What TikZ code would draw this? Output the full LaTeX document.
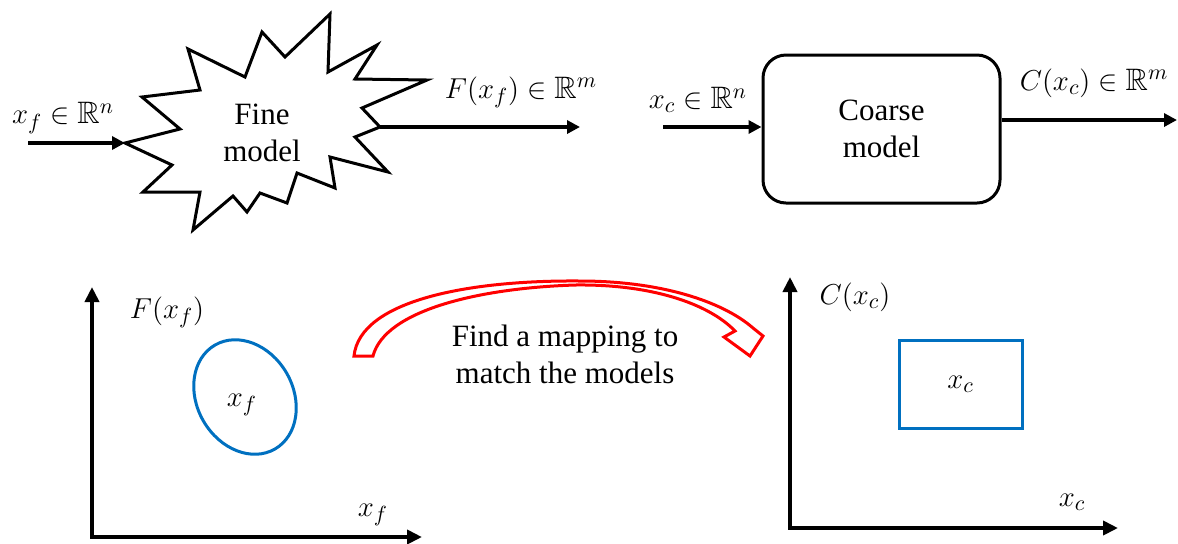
\documentclass[tikz,border=0pt]{standalone}
\usepackage{amsfonts,amssymb,amsmath}
\usepackage{fontspec}
\setmainfont{Liberation Serif}
\usepackage{tikz}
\usepackage{xcolor}
\usetikzlibrary{arrows.meta,positioning}
\definecolor{setblue}{RGB}{0,112,192}

\begin{document}
\begin{tikzpicture}[x=0.5pt,y=-0.5pt,
  every node/.style={font=\fontsize{15.5}{18.5}\selectfont},
  flow/.style={line width=2pt,-{Triangle[length=6.5pt,width=6.5pt]}},
  axes/.style={line width=2pt,{Triangle[length=7.5pt,width=7pt]}-{Triangle[length=7.5pt,width=7pt]}},
  region/.style={setblue,line width=1.5pt}]
\useasboundingbox (0,0) rectangle (1178,543);
% fine model
\draw[line width=1.5pt,line join=miter,miter limit=10](125,143)--(180,129)--(142,97)--(200,90)--(188,49)--(245,77)--(262,32)--(285,57)--(330,14)--(328,72)--(377,45)--(355,79)--(427,80)--(362,108)--(380,127)--(355,137)--(388,172)--(330,157)--(335,188)--(297,173)--(287,203)--(260,193)--(247,212)--(233,196)--(193,230)--(200,192)--(143,192)--(172,165)--cycle;
\coordinate (fineIn) at (125,143);
\coordinate (fineOut) at (380,127);
\coordinate (xfIn) at (28,143);
\coordinate (FOut) at (580,127);
\node[align=center] (fine) at (262,133) {Fine\\model};
\draw[flow](xfIn)--(fineIn);
\draw[flow](fineOut)--(FOut);
\node (xfLab) at (63,118) {$x_f\in\mathbb{R}^n$};
\node (FLab) at (521,92) {$F(x_f)\in\mathbb{R}^m$};
% coarse model
\node[draw,rounded corners=11.5pt,line width=1.5pt,minimum width=118.5pt,minimum height=74pt,align=center] (coarse) at (881.5,129) {Coarse\\model};
\coordinate (xcIn) at (663,127);
\coordinate (COut) at (1177,120);
\draw[flow](xcIn)--(xcIn -| coarse.west);
\draw[flow](coarse.east |- COut)--(COut);
\node (xcLab) at (698,100) {$x_c\in\mathbb{R}^n$};
\node (CLab) at (1094,83) {$C(x_c)\in\mathbb{R}^m$};
% fine response plot
\coordinate (o1) at (92,537);
\coordinate (y1) at (92,287);
\coordinate (x1) at (422,537);
\draw[axes](y1)--(o1)--(x1);
\node (Fax) at (167,312) {$F(x_f)$};
\node (xfax) at (373,515) {$x_f$};
\draw[region,rotate around={-60:(245,397)}](245,397) ellipse[x radius=30pt,y radius=24pt];
\node (xfSet) at (242,405) {$x_f$};
% coarse response plot
\coordinate (o2) at (790,528);
\coordinate (y2) at (790,277);
\coordinate (x2) at (1118,528);
\draw[axes](y2)--(o2)--(x2);
\node (Cax) at (855,297) {$C(x_c)$};
\node (xcax) at (1072,502) {$x_c$};
\node[draw=setblue,line width=1.5pt,minimum width=61.5pt,minimum height=44pt] (xcSet) at (960.5,384) {$x_c$};
% mapping arrow
\draw[red,line width=1.5pt,line join=miter,fill=white](354,356)--(373,356)
  ..controls(385,310)and(480,288)..(575,285)
  ..controls(650,284)and(708,303)..(735,331)
  --(724,337)--(750,356)--(763,336)--(753,328)
  ..controls(722,301)and(660,281)..(580,281)
  ..controls(470,280)and(360,300)..(354,356)--cycle;
\node[align=center] (mapText) at (565,354) {Find a mapping to\\match the models};
\end{tikzpicture}
\end{document}
